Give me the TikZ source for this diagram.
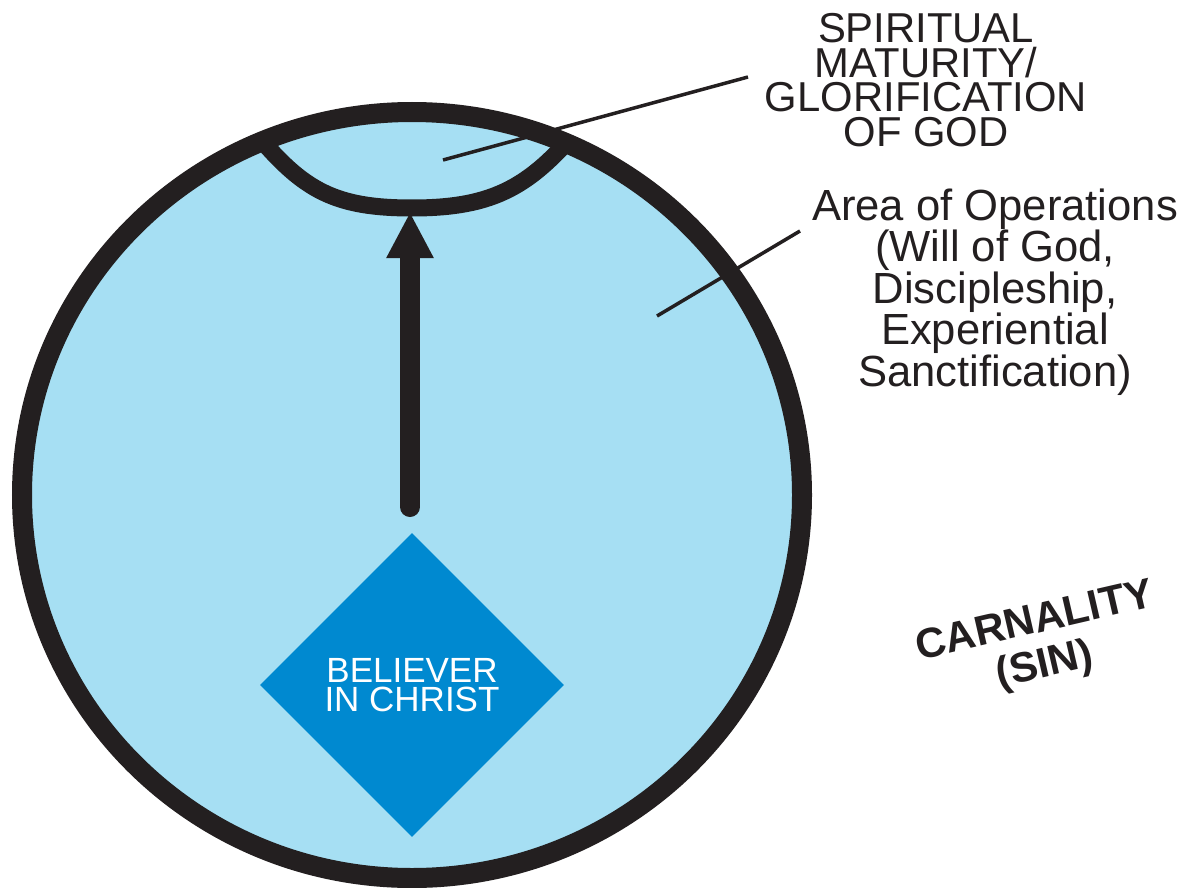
\documentclass[tikz,border=0pt]{standalone}
\usepackage{fontspec}
\setmainfont{Liberation Sans}
\usepackage{xcolor}
\usepackage{tikz}
\usetikzlibrary{positioning, arrows.meta, shapes.geometric}
\definecolor{ringInk}{HTML}{231F20}
\definecolor{areaBlue}{HTML}{A6DFF3}
\definecolor{believerBlue}{HTML}{0089D0}

\begin{document}
\begin{tikzpicture}[
        x=1pt, y=-1pt,
        ring/.style={draw=ringInk, line width=20pt},
        capline/.style={draw=ringInk, line width=17pt},
        growarr/.style={-{Triangle[width=44pt, length=46pt]}, ringInk, line width=20pt, line cap=round},
        leader/.style={draw=ringInk, line width=3.5pt},
        believer/.style={diamond, fill=believerBlue, minimum width=304pt, minimum height=304pt,
                         inner sep=0pt, align=center, text=white,
                         font=\fontsize{35}{29}\selectfont},
        toplabel/.style={align=center, inner sep=0pt, text=ringInk,
                         font=\fontsize{41.8}{34.5}\selectfont},
        sidelabel/.style={align=center, inner sep=0pt, text=ringInk,
                          font=\fontsize{43.6}{34.5}\selectfont},
        sinlabel/.style={align=center, inner sep=0pt, text=ringInk,
                         font=\bfseries\fontsize{42}{45}\selectfont},
      ]
        \useasboundingbox[fill=white] (0,0) rectangle (1188,888);

        % Area of operations (filled ring)
        \fill[areaBlue] (412,495) ellipse [x radius=390, y radius=383];

        % Top bowl: maturity, kept inside the ring
        \begin{scope}
          \clip (412,495) ellipse [x radius=390, y radius=383];
          \coordinate (capL) at (248,124);
          \coordinate (capB) at (412,208);
          \coordinate (capR) at (584,122);
          \draw[capline] (capL) .. controls (300,188) and (330,208) .. (capB)
                                .. controls (495,208) and (532,186) .. (capR);
        \end{scope}

        % Believer
        \node[believer] (believer) at (412,685) {BELIEVER\\IN CHRIST};

        % Growth arrow
        \coordinate (arr_start) at (410,507);
        \coordinate (arr_tip) at (410,212);
        \draw[growarr] (arr_start) -- (arr_tip);

        % Outer ring
        \draw[ring] (412,495) ellipse [x radius=390, y radius=383];

        % Labels
        \node[toplabel] (maturity) at (926,80) {SPIRITUAL\\MATURITY/\\GLORIFICATION\\OF GOD};
        \node[sidelabel] (area) at (995,292) {Area of Operations\\(Will of God,\\Discipleship,\\Experiential\\Sanctification)};
        \node[sinlabel, rotate=13] (carnality) at (1040,645) {CARNALITY\\(SIN)};

        % Leaders
        \coordinate (mat_in) at (443,160);
        \coordinate (mat_out) at (748,77);
        \coordinate (area_in) at (657,316);
        \coordinate (area_out) at (800,231);
        \draw[leader] (mat_in) -- (mat_out);
        \draw[leader] (area_in) -- (area_out);
      \end{tikzpicture}
\end{document}
